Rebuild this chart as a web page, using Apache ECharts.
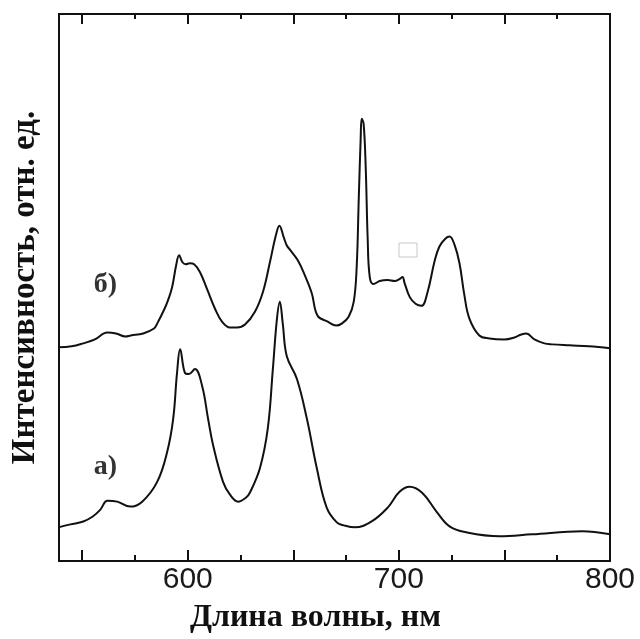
<!DOCTYPE html>
<html>
<head>
<meta charset="utf-8">
<script src="https://cdn.jsdelivr.net/npm/echarts@6/dist/echarts.min.js"></script>
<style>
html,body{margin:0;padding:0;background:#fff;}
#chart{width:640px;height:639px;}
</style>
</head>
<body>
<div id="chart"></div>
<script>
// ---- data (wavelength, nm ; intensity, rel. units) ----
const wavelengthA = [538.7,544.4,550.5,555,558.6,561.9,566.6,572.7,578.4,585.5,590.2,593.1,594.9,596.4,598.7,600.5,603.4,606.8,609.6,612,616.7,620,623.8,627.5,629.4,634.2,637.9,640.3,642.2,643.6,645,646.9,651.7,656.4,661.1,665.8,670.6,674,679.1,687.1,694.7,700.3,705.1,711,717.8,724,732,747.6,763.2,786.8,800];
const intensityA  = [34,37,40,45,52,61,60,55,60,80,110,144,190,214,190,189,194,177,144,117,80,67,60,64,69,94,134,194,244,262,240,207,184,144,94,54,39,36,34,40,54,70,75,69,50,35,29,25,27,30,27];

const wavelengthB = [538.7,545,550.5,556,561.9,566,570.5,573,578.9,584,585.5,589,590.7,592.6,594.5,595.9,597.5,599,601,603,605.8,609.1,612.9,616.2,620,623.3,627.1,631.8,635.6,638.9,641.7,643.4,645.5,646.9,648.3,652.1,655.4,658.7,661.5,666.3,670.3,672.9,676.2,678.6,680,681,681.9,682.4,683.3,684.3,685.2,686.2,688,690.9,694.7,698,700.3,701.7,702.7,705.1,707.9,710.7,713.6,716.9,719.2,722.1,724,726.3,728.7,731,733.4,738.1,742.9,750,754.7,758,760.4,764.2,768.9,772.6,780.7,790,800];
const intensityB  = [216,217,220,224,231,230,227,228,230,235,240,255,264,277,299,309,302,300,301,300,292,275,255,242,236,236,239,252,272,302,329,339,327,319,315,304,289,271,248,242,238,240,247,262,297,367,427,447,442,397,327,287,280,283,284,283,285,287,281,267,260,258,272,303,318,326,328,320,301,269,245,228,225,224,226,229,230,224,220,219,218,217,215];

const xMin = 539, xMax = 800, yMin = 0, yMax = 553;
const majorTicks = [550,600,650,700,750,800];
const minorTicks = [575,625,675,725,775];
const tickLabels = [600,700,800];
const curveLabels = [
  {text:'б)', x:561, y:279},
  {text:'а)', x:561, y:95}
];
const xTitle = 'Длина волны, нм';
const yTitle = 'Интенсивность, отн. ед.';

const toPairs = (xs, ys) => xs.map((x,i)=>[x, ys[i]]);
const ink = '#111';
const serif = '"Liberation Serif","DejaVu Serif",serif';

function xAx(position, ticks, len, withLabels){
  return {
    type:'value', min:xMin, max:xMax, position:position,
    axisLine:{show:true, onZero:false, lineStyle:{color:ink, width:2}},
    axisTick:{show:true, inside:true, length:len, customValues:ticks, lineStyle:{color:ink, width:2}},
    axisLabel: withLabels ? {show:true, customValues:tickLabels, color:'#1a1a1a', fontSize:30,
               fontFamily:'"Liberation Sans",Arial,sans-serif', margin:4} : {show:false},
    splitLine:{show:false}
  };
}

const chart = echarts.init(document.getElementById('chart'), null, {renderer:'canvas'});
const bottomMain = xAx('bottom', majorTicks, 11, true);
bottomMain.name = xTitle;
bottomMain.nameLocation = 'middle';
bottomMain.nameGap = 41;
bottomMain.nameTextStyle = {fontFamily:serif, fontWeight:'bold', fontSize:32, color:'#111', padding:[0,38,0,0]};

chart.setOption({
  backgroundColor:'#fff',
  animation:false,
  grid:{left:59, right:30, top:14, bottom:72, containLabel:false},
  xAxis:[
    bottomMain,
    xAx('bottom', minorTicks, 6, false),
    xAx('top', majorTicks, 10, false),
    xAx('top', minorTicks, 5, false)
  ],
  yAxis:[
    {type:'value', min:yMin, max:yMax, position:'left',
     name:yTitle, nameLocation:'middle', nameGap:17,
     nameTextStyle:{fontFamily:serif, fontWeight:'bold', fontSize:33, color:'#111'},
     axisLine:{show:true, lineStyle:{color:ink, width:2}},
     axisTick:{show:false}, axisLabel:{show:false}, splitLine:{show:false}},
    {type:'value', min:yMin, max:yMax, position:'right',
     axisLine:{show:true, lineStyle:{color:ink, width:2}},
     axisTick:{show:false}, axisLabel:{show:false}, splitLine:{show:false}}
  ],
  series:[
    {type:'line', name:'а)', data:toPairs(wavelengthA, intensityA), showSymbol:false,
     smooth:0.4, lineStyle:{color:ink, width:2}},
    {type:'line', name:'б)', data:toPairs(wavelengthB, intensityB), showSymbol:false,
     smooth:0.4, lineStyle:{color:ink, width:2}},
    {type:'scatter', symbolSize:0, silent:true,
     data:curveLabels.map(c=>({value:[c.x,c.y], name:c.text})),
     label:{show:true, position:'inside', formatter:p=>p.name, fontFamily:serif,
            fontWeight:'bold', fontSize:28, color:'#000'}}
  ],
  graphic:[
    {type:'rect', shape:{x:399, y:243, width:18, height:14},
     style:{fill:'none', stroke:'#c8c8c8', lineWidth:1}}
  ]
});
</script>
</body>
</html>
